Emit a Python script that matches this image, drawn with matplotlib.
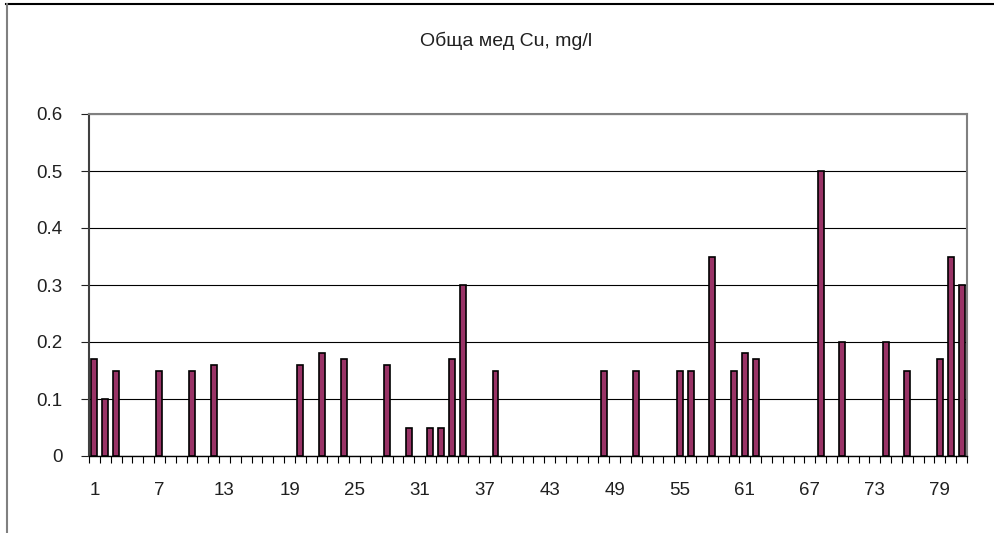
import numpy as np
import matplotlib.pyplot as plt
from matplotlib.lines import Line2D

# samples 1..81, only non-zero ones listed
n_samples = 81
sample_ids = [1, 2, 3, 7, 10, 12, 20, 22, 24, 28, 30, 32, 33, 34, 35, 38,
              48, 51, 55, 56, 58, 60, 61, 62, 68, 70, 74, 76, 79, 80, 81]
cu_values = [0.17, 0.10, 0.15, 0.15, 0.15, 0.16, 0.16, 0.18, 0.17, 0.16, 0.05, 0.05, 0.05, 0.17, 0.30, 0.15,
             0.15, 0.15, 0.15, 0.15, 0.35, 0.15, 0.18, 0.17, 0.50, 0.20, 0.20, 0.15, 0.17, 0.35, 0.30]
y_ticks = [0, 0.1, 0.2, 0.3, 0.4, 0.5, 0.6]
y_labels = ['0', '0.1', '0.2', '0.3', '0.4', '0.5', '0.6']
x_labels = list(range(1, n_samples + 1, 6))

plt.rcParams['font.family'] = ['Liberation Sans', 'DejaVu Sans']

W, H = 995, 533
fig = plt.figure(figsize=(W / 100, H / 100), dpi=100)

# outer chart frame (cropped: only top and left visible)
fig.add_artist(Line2D([6 / W, 1], [1 - 4 / H, 1 - 4 / H], color='black', lw=1.5))
fig.add_artist(Line2D([7 / W, 7 / W], [0, 1 - 4 / H], color='#808080', lw=1.5))

ax = fig.add_axes([89 / W, (H - 456) / H, (967 - 89) / W, (456 - 114) / H])

ax.bar(sample_ids, cu_values, width=0.55, color='#993366',
       edgecolor='black', linewidth=1.2, zorder=3)

ax.set_xlim(0.5, n_samples + 0.5)
ax.set_ylim(0, 0.6)
ax.set_yticks(y_ticks)
ax.set_yticklabels(y_labels, fontsize=13.5)
ax.yaxis.grid(True, color='black', linewidth=0.8, zorder=0)
ax.set_axisbelow(True)

ax.set_xticks(x_labels)
ax.set_xticklabels([str(v) for v in x_labels], fontsize=13.5)
ax.set_xticks(np.arange(0.5, n_samples + 1, 1), minor=True)
ax.tick_params(axis='x', which='major', length=0, pad=19, colors='#202020')
ax.tick_params(axis='x', which='minor', length=5, width=0.8, direction='out')
ax.tick_params(axis='y', length=6, width=0.8, direction='out', pad=13, colors='#202020')

ax.spines['top'].set_color('#808080')
ax.spines['right'].set_color('#808080')
ax.spines['top'].set_linewidth(1.5)
ax.spines['right'].set_linewidth(1.5)
ax.spines['left'].set_color('#404040')
ax.spines['left'].set_linewidth(1.5)
ax.spines['bottom'].set_color('black')
ax.spines['bottom'].set_linewidth(1.0)

fig.text(506 / W, 1 - 41 / H, 'Обща мед Cu, mg/l', ha='center', va='center',
         fontsize=14, color='#202020')

fig.savefig('out.png', dpi=100)
